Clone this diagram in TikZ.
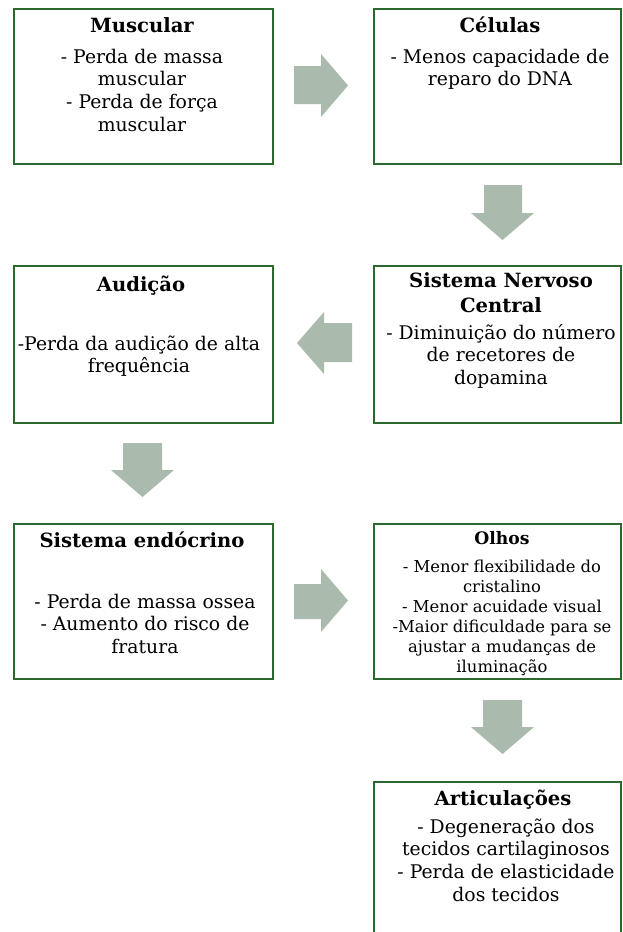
\documentclass[tikz,border=0pt]{standalone}
\usepackage{fontspec}
\setmainfont{DejaVu Serif}
\definecolor{boxgreen}{RGB}{45,105,45}
\definecolor{arrowfill}{RGB}{170,186,172}
\newcommand{\stack}[1]{\begin{tabular}[t]{@{}c@{}}#1\end{tabular}}
\begin{document}
\begin{tikzpicture}[x=1pt,y=-1pt,
  panel/.style={draw=boxgreen, line width=2pt, inner sep=0pt, anchor=north west},
  ttl/.style={anchor=base, inner sep=0pt, font=\fontsize{19.6}{25}\selectfont\bfseries},
  body/.style={anchor=base, inner sep=0pt, font=\fontsize{18.8}{22.8}\selectfont},
  smallttl/.style={anchor=base, inner sep=0pt, font=\fontsize{17.2}{20}\selectfont\bfseries},
  smallbody/.style={anchor=base, inner sep=0pt, font=\fontsize{16.4}{20}\selectfont},
  blk/.style={fill=arrowfill, draw=none}]
\useasboundingbox (0,0) rectangle (622,932);
\clip (0,0) rectangle (622,932);

% panels
\node[panel, minimum width=259pt, minimum height=155pt] (p1) at (13,8) {};
\node[panel, minimum width=247pt, minimum height=155pt] (p2) at (373,8) {};
\node[panel, minimum width=259pt, minimum height=157pt] (p3) at (13,265) {};
\node[panel, minimum width=247pt, minimum height=157pt] (p4) at (373,265) {};
\node[panel, minimum width=259pt, minimum height=155pt] (p5) at (13,523) {};
\node[panel, minimum width=247pt, minimum height=155pt] (p6) at (373,523) {};
\node[panel, minimum width=247pt, minimum height=230pt] (p7) at (373,781) {};

% texts
\node[ttl] (t1) at (142,32) {Muscular};
\node[body] (b1) at (142,63) {\stack{- Perda de massa\\muscular\\- Perda de força\\muscular}};

\node[ttl] (t2) at (500,32) {Células};
\node[body] (b2) at (500,63) {\stack{- Menos capacidade de\\reparo do DNA}};

\node[ttl] (t3) at (141,291) {Audição};
\node[body] (b3) at (139,350) {\stack{-Perda da audição de alta\\frequência}};

\node[ttl] (t4) at (501,287) {\stack{Sistema Nervoso\\Central}};
\node[body] (b4) at (501,339) {\stack{- Diminuição do número\\de recetores de\\dopamina}};

\node[ttl] (t5) at (142,547) {Sistema endócrino};
\node[body] (b5) at (145,608) {\stack{- Perda de massa ossea\\- Aumento do risco de\\fratura}};

\node[smallttl] (t6) at (502,544) {Olhos};
\node[smallbody] (b6) at (502,572) {\stack{- Menor flexibilidade do\\cristalino\\- Menor acuidade visual\\-Maior dificuldade para se\\ajustar a mudanças de\\iluminação}};

\node[ttl] (t7) at (503,805) {Articulações};
\node[body] (b7) at (506,833) {\stack{- Degeneração dos\\tecidos cartilaginosos\\- Perda de elasticidade\\dos tecidos}};

% block arrows
\fill[blk] (294,66) -- (321,66) -- (321,54) -- (348,85.5) -- (321,117) -- (321,104) -- (294,104) -- cycle;
\fill[blk] (484,185) -- (522,185) -- (522,213) -- (534,213) -- (502.5,240) -- (471,213) -- (484,213) -- cycle;
\fill[blk] (352,323) -- (324,323) -- (324,312) -- (297,343) -- (324,374) -- (324,362) -- (352,362) -- cycle;
\fill[blk] (123,443) -- (162,443) -- (162,470) -- (174,470) -- (142.5,497) -- (111,470) -- (123,470) -- cycle;
\fill[blk] (294,584) -- (321,584) -- (321,569) -- (348,600.5) -- (321,632) -- (321,619) -- (294,619) -- cycle;
\fill[blk] (483,700) -- (522,700) -- (522,727) -- (534,727) -- (502.5,754) -- (471,727) -- (483,727) -- cycle;
\end{tikzpicture}
\end{document}
